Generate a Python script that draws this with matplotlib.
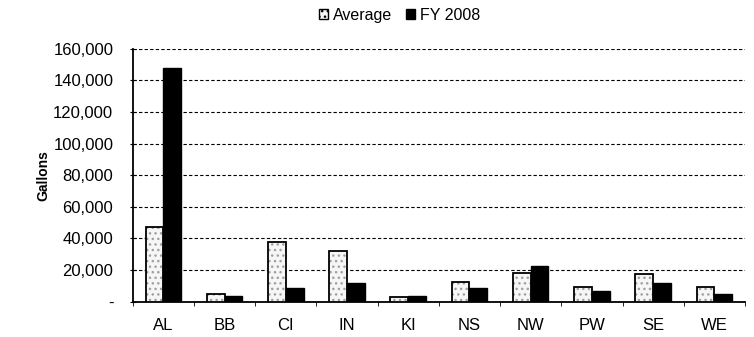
import numpy as np
import matplotlib.pyplot as plt
from matplotlib.ticker import FuncFormatter
from matplotlib.patches import Patch

regions = ["AL", "BB", "CI", "IN", "KI", "NS", "NW", "PW", "SE", "WE"]
average = [47500, 4700, 38000, 32100, 2800, 12700, 18400, 9100, 17300, 9100]
fy2008 = [148100, 3800, 8500, 11600, 3600, 8500, 22600, 6800, 11600, 4700]

plt.rcParams['font.family'] = ['Liberation Sans', 'DejaVu Sans']

fig = plt.figure(figsize=(7.54, 3.37), dpi=100)
ax = fig.add_axes([0.176, 0.105, 0.812, 0.75])

x = np.arange(len(regions))
w = 0.29

# stippled fill for the average bars, then a plain black outline on top
ax.bar(x - w/2, average, w, color='#f6f6f6', hatch='...', edgecolor='#a0a0a0',
       linewidth=0, zorder=3)
ax.bar(x - w/2, average, w, fill=False, edgecolor='black', linewidth=1.3, zorder=4)
ax.bar(x + w/2, fy2008, w, color='black', edgecolor='black', zorder=3)

ax.set_xlim(-0.5, len(regions) - 0.5)
ax.set_ylim(0, 160000)
ax.set_yticks(np.arange(0, 160001, 20000))
ax.yaxis.set_major_formatter(FuncFormatter(lambda v, p: '-' if v == 0 else f'{int(v):,}'))
ax.grid(axis='y', color='black', linestyle=(0, (3, 2)), linewidth=0.8, zorder=1)

ax.set_xticks(x)
ax.set_xticklabels(regions)
ax.set_xticks(np.arange(-0.5, len(regions), 1), minor=True)
ax.tick_params(axis='x', which='major', length=0, pad=12, labelsize=12)
ax.tick_params(axis='x', which='minor', length=3, direction='out')
ax.tick_params(axis='y', length=4, direction='inout', labelsize=12, pad=12)

for s in ['top', 'right']:
    ax.spines[s].set_visible(False)
ax.spines['left'].set_linewidth(1.3)
ax.spines['bottom'].set_linewidth(1.3)

ax.set_ylabel('Gallons', fontweight='bold', fontsize=10, labelpad=2)

handles = [Patch(facecolor='#f6f6f6', edgecolor='black', hatch='...'),
           Patch(facecolor='black', edgecolor='black')]
fig.legend(handles, ['Average', 'FY 2008'], loc='center', bbox_to_anchor=(0.53, 0.955),
           ncol=2, frameon=False, fontsize=11.5, handlelength=0.55, handleheight=0.55,
           handletextpad=0.3, columnspacing=0.9)

fig.savefig('out.png', dpi=100)
